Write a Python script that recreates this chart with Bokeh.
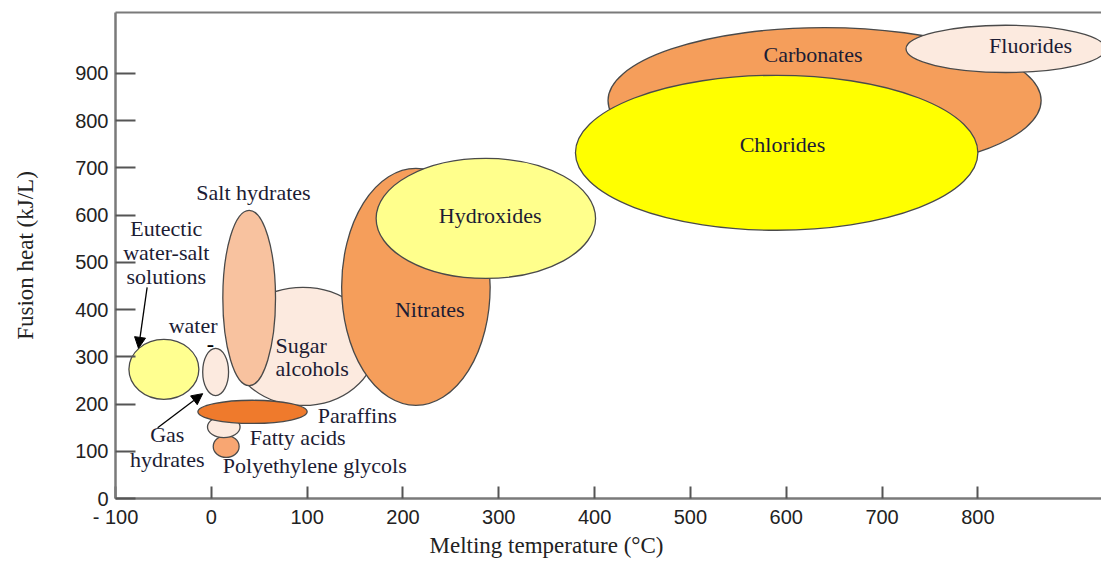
import numpy as np
from bokeh.plotting import figure
from bokeh.models import (ColumnDataSource, FixedTicker, LinearAxis, Title,
                          Arrow, NormalHead, Range1d)
from bokeh.core.properties import value
from bokeh.embed import file_html
from bokeh.resources import INLINE

# ---------------- data ----------------
materials = ["Sugar alcohols", "Salt hydrates", "Nitrates", "Hydroxides",
             "Carbonates", "Chlorides", "Fluorides",
             "Eutectic water-salt solutions", "Water",
             "Polyethylene glycols", "Fatty acids", "Paraffins"]
t_min = [20, 12, 136, 172, 414, 380, 725, -86, -9, 2, -4, -14]      # °C
t_max = [171, 67, 291, 401, 866, 800, 933, -13, 18, 29, 30, 100]    # °C
h_min = [197, 239, 197, 466, 688, 568, 902, 210, 218, 87, 129, 159]  # kJ/L
h_max = [447, 610, 699, 720, 997, 896, 1002, 337, 318, 133, 174, 208]
fill_colors = ["#FCEADF", "#F8C29F", "#F59E5B", "#FFFF8C",
               "#F59E5B", "#FFFF00", "#FCEADF",
               "#FFFF90", "#FCEADF",
               "#F8A672", "#FCEADF", "#EF7A2C"]

# centred labels
c_text = ["Salt hydrates", "Eutectic", "water-salt", "solutions", "water",
          "Nitrates", "Hydroxides", "Chlorides", "Carbonates", "Fluorides",
          "Gas", "hydrates"]
c_t = [44, -47, -47, -47, -19, 228, 291, 596, 628, 855, -46, -46]
c_h = [648, 572, 521, 470, 366, 400, 599, 750, 940, 959, 136, 83]

# left-aligned labels
l_text = ["Sugar", "alcohols", "Paraffins", "Fatty acids", "Polyethylene glycols"]
l_t = [67, 67, 111, 40, 12]
l_h = [324, 275, 176, 129, 70]

# arrows
arr_t0 = [-67, -56]
arr_h0 = [447, 150]
arr_t1 = [-76, -9]
arr_h1 = [318, 222]

x_ticks = [-100, 0, 100, 200, 300, 400, 500, 600, 700, 800]
y_ticks = [0, 100, 200, 300, 400, 500, 600, 700, 800, 900]

# ---------------- figure ----------------
SERIF = "Liberation Serif"
SANS = "Liberation Sans"
TXT = "#1c1c34"

p = figure(width=1101, height=561, output_backend="svg", toolbar_location=None,
           x_range=Range1d(-100, 929), y_range=Range1d(0, 1029),
           min_border_left=115, min_border_right=0, min_border_top=12,
           min_border_bottom=63)
p.grid.visible = False
p.outline_line_color = None
p.background_fill_color = "white"

src = ColumnDataSource(dict(
    x=[(a + b) / 2 for a, b in zip(t_min, t_max)],
    y=[(a + b) / 2 for a, b in zip(h_min, h_max)],
    w=[b - a for a, b in zip(t_min, t_max)],
    h=[b - a for a, b in zip(h_min, h_max)],
    c=fill_colors, name=materials))
p.ellipse(x="x", y="y", width="w", height="h", source=src,
          fill_color="c", line_color="#4a4a4a", line_width=1.3)

p.text(x=c_t, y=c_h, text=c_text, text_align="center", text_baseline="middle",
       text_font=value(SERIF), text_font_size=value("22px"), text_color=TXT)
p.text(x=l_t, y=l_h, text=l_text, text_align="left", text_baseline="middle",
       text_font=value(SERIF), text_font_size=value("22px"), text_color=TXT)
p.text(x=[-1], y=[328], text=["-"], text_align="center", text_baseline="middle",
       text_font=value(SERIF), text_font_size=value("22px"),
       text_font_style="bold", text_color="black")

arr_src = ColumnDataSource(dict(x0=arr_t0, y0=arr_h0, x1=arr_t1, y1=arr_h1))
p.add_layout(Arrow(end=NormalHead(size=11, fill_color="black", line_color="black"),
                   x_start="x0", y_start="y0", x_end="x1", y_end="y1",
                   source=arr_src, line_color="black", line_width=1.3))

# axes
AX = "#7a7a7a"
xa = p.xaxis[0]
xa.ticker = FixedTicker(ticks=x_ticks)
xa.major_label_overrides = {-100: "- 100"}
ya = p.yaxis[0]
ya.ticker = FixedTicker(ticks=y_ticks)
for ax in (xa, ya):
    ax.axis_line_color = AX
    ax.axis_line_width = 2.5
    ax.major_tick_line_color = "#555555"
    ax.major_tick_line_width = 2
    ax.major_tick_out = 0
    ax.minor_tick_line_color = None
    ax.major_label_text_font = SANS
    ax.major_label_text_font_size = "20px"
    ax.major_label_text_color = "#222222"
xa.major_tick_in = 12
xa.major_label_standoff = 7
ya.major_tick_in = 20
ya.major_label_standoff = 7

ya.axis_label = "Fusion heat (kJ/L)"
ya.axis_label_text_font = SERIF
ya.axis_label_text_font_size = "23px"
ya.axis_label_text_font_style = "normal"
ya.axis_label_text_color = "#222222"
ya.axis_label_standoff = 34

top = LinearAxis(ticker=FixedTicker(ticks=[]), axis_line_color=AX,
                 axis_line_width=2, major_tick_line_color=None,
                 minor_tick_line_color=None, major_label_text_font_size="0px",
                 major_label_standoff=0)
p.add_layout(top, "above")

xt = Title(text="Melting temperature (°C)", align="left", offset=314,
           text_font=SERIF, text_font_size="23px", text_font_style="normal",
           text_color="#222222", standoff=1)
p.add_layout(xt, "below")

open("out.html", "w").write(file_html(p, INLINE))
